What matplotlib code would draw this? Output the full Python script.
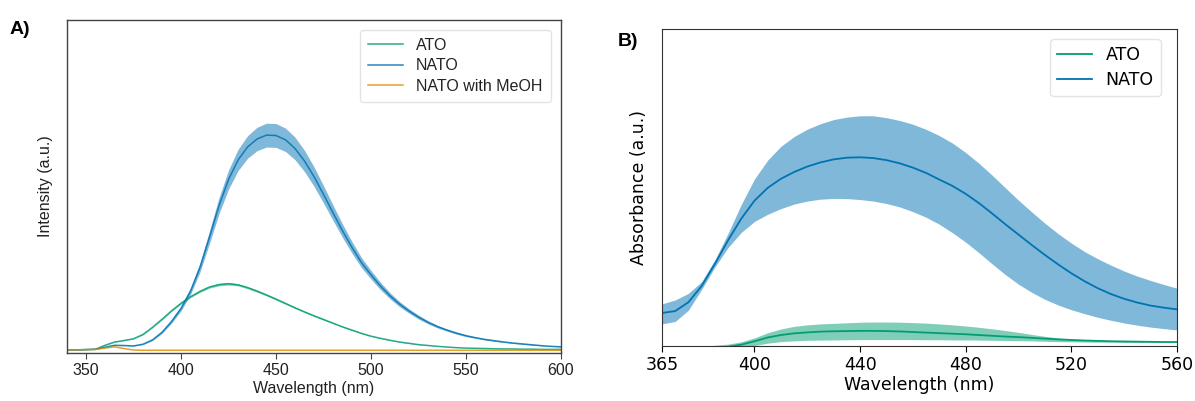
import numpy as np
import matplotlib
matplotlib.use("Agg")
import matplotlib.pyplot as plt

# colorblind palette colours
GREEN = "#029e73"
BLUE = "#0173b2"
ORANGE = "#de8f05"

# ---- panel A: emission spectra (normalised to NATO peak) ----
wl_a = list(range(340, 601, 5))

ato_a = [0.004, 0.004, 0.005, 0.007, 0.025, 0.040, 0.047, 0.055, 0.075, 0.108,
         0.145, 0.184, 0.219, 0.249, 0.274, 0.294, 0.305, 0.309, 0.304, 0.291,
         0.275, 0.257, 0.238, 0.218, 0.198, 0.179, 0.161, 0.144, 0.127, 0.110,
         0.095, 0.080, 0.067, 0.057, 0.048, 0.040, 0.034, 0.028, 0.024, 0.020,
         0.017, 0.014, 0.012, 0.011, 0.010, 0.009, 0.008, 0.008, 0.007, 0.007,
         0.006, 0.006, 0.006]
ato_a_std = [0.0, 0.0, 0.0, 0.0, 0.001, 0.001, 0.001, 0.001, 0.002, 0.002,
             0.003, 0.003, 0.004, 0.004, 0.005, 0.005, 0.006, 0.006, 0.005, 0.005,
             0.005, 0.004, 0.004, 0.004, 0.003, 0.003, 0.003, 0.003, 0.002, 0.002,
             0.002, 0.002, 0.001, 0.001, 0.001, 0.001, 0.001, 0.001, 0.0, 0.0,
             0.0, 0.0, 0.0, 0.0, 0.0, 0.0, 0.0, 0.0, 0.0, 0.0,
             0.0, 0.0, 0.0]

nato_a = [0.004, 0.004, 0.005, 0.006, 0.016, 0.025, 0.024, 0.022, 0.030, 0.050,
          0.085, 0.135, 0.195, 0.275, 0.385, 0.525, 0.670, 0.790, 0.880, 0.940,
          0.977, 0.995, 0.993, 0.973, 0.933, 0.875, 0.803, 0.721, 0.636, 0.553,
          0.476, 0.406, 0.350, 0.298, 0.253, 0.215, 0.183, 0.155, 0.131, 0.111,
          0.095, 0.081, 0.069, 0.060, 0.052, 0.046, 0.040, 0.035, 0.031, 0.027,
          0.023, 0.020, 0.018]
nato_a_std = [0.0, 0.0, 0.0, 0.0, 0.001, 0.001, 0.001, 0.001, 0.002, 0.003,
              0.005, 0.008, 0.011, 0.015, 0.021, 0.029, 0.037, 0.044, 0.049, 0.052,
              0.054, 0.055, 0.055, 0.054, 0.052, 0.049, 0.045, 0.040, 0.035, 0.031,
              0.027, 0.023, 0.020, 0.017, 0.014, 0.012, 0.010, 0.009, 0.007, 0.006,
              0.005, 0.005, 0.004, 0.003, 0.003, 0.003, 0.002, 0.002, 0.002, 0.002,
              0.001, 0.001, 0.001]

meoh_a = [0.004, 0.004, 0.005, 0.006, 0.012, 0.018, 0.010, 0.003, 0.002, 0.002,
          0.002, 0.002, 0.002, 0.002, 0.002, 0.002, 0.002, 0.002, 0.002, 0.002,
          0.002, 0.002, 0.002, 0.002, 0.002, 0.002, 0.002, 0.002, 0.002, 0.002,
          0.002, 0.002, 0.002, 0.002, 0.002, 0.002, 0.002, 0.002, 0.002, 0.002,
          0.002, 0.002, 0.002, 0.002, 0.002, 0.002, 0.002, 0.002, 0.002, 0.002,
          0.002, 0.002, 0.002]

# ---- panel B: absorbance spectra (normalised to NATO peak) ----
wl_b = list(range(365, 561, 5))

nato_b = [0.175, 0.185, 0.232, 0.318, 0.435, 0.560, 0.675, 0.770, 0.838, 0.886,
          0.922, 0.951, 0.973, 0.989, 0.998, 1.000, 0.996, 0.985, 0.968, 0.945,
          0.917, 0.882, 0.848, 0.806, 0.757, 0.702, 0.645, 0.590, 0.535, 0.482,
          0.432, 0.385, 0.343, 0.306, 0.275, 0.250, 0.230, 0.214, 0.203, 0.194]
nato_b_hi = [0.223, 0.244, 0.279, 0.341, 0.456, 0.597, 0.750, 0.885, 0.985, 1.058,
             1.110, 1.149, 1.178, 1.200, 1.213, 1.220, 1.220, 1.210, 1.195, 1.175,
             1.148, 1.115, 1.075, 1.025, 0.968, 0.905, 0.838, 0.772, 0.710, 0.650,
             0.595, 0.545, 0.500, 0.462, 0.428, 0.397, 0.370, 0.347, 0.326, 0.306]
nato_b_lo = [0.117, 0.130, 0.190, 0.300, 0.418, 0.522, 0.602, 0.660, 0.698, 0.728,
             0.752, 0.768, 0.778, 0.782, 0.781, 0.776, 0.768, 0.755, 0.737, 0.712,
             0.682, 0.645, 0.600, 0.550, 0.494, 0.435, 0.378, 0.327, 0.284, 0.247,
             0.217, 0.192, 0.171, 0.152, 0.136, 0.122, 0.110, 0.100, 0.092, 0.085]

ato_b = [-0.030, -0.025, -0.020, -0.015, -0.010, -0.004, 0.007, 0.025, 0.045, 0.058,
         0.067, 0.072, 0.076, 0.078, 0.079, 0.080, 0.080, 0.079, 0.077, 0.074,
         0.071, 0.068, 0.065, 0.062, 0.058, 0.054, 0.050, 0.047, 0.043, 0.039,
         0.035, 0.032, 0.029, 0.027, 0.025, 0.024, 0.023, 0.022, 0.021, 0.021]
ato_b_hi = [-0.010, -0.008, -0.005, -0.002, 0.004, 0.010, 0.022, 0.043, 0.070, 0.090,
            0.104, 0.112, 0.117, 0.120, 0.123, 0.126, 0.127, 0.127, 0.126, 0.124,
            0.121, 0.117, 0.112, 0.106, 0.099, 0.091, 0.082, 0.072, 0.061, 0.051,
            0.043, 0.036, 0.031, 0.028, 0.026, 0.025, 0.024, 0.023, 0.022, 0.022]
ato_b_lo = [-0.050, -0.045, -0.040, -0.035, -0.028, -0.020, -0.008, 0.002, 0.015, 0.023,
            0.027, 0.030, 0.031, 0.032, 0.033, 0.034, 0.034, 0.034, 0.034, 0.034,
            0.033, 0.033, 0.032, 0.032, 0.031, 0.030, 0.029, 0.028, 0.027, 0.025,
            0.023, 0.022, 0.021, 0.020, 0.020, 0.019, 0.019, 0.019, 0.019, 0.019]

fig = plt.figure(figsize=(11.95, 4.01), dpi=100)

# Panel A
ax1 = fig.add_axes([0.0561, 0.1197, 0.4134, 0.8304])
sans = ["Liberation Sans", "DejaVu Sans"]
for y, s, c, lab in [(ato_a, ato_a_std, GREEN, "ATO"),
                     (nato_a, nato_a_std, BLUE, "NATO"),
                     (meoh_a, None, ORANGE, "NATO with MeOH")]:
    y = np.array(y)
    ax1.plot(wl_a, y, color=c, lw=1.1, alpha=0.85, label=lab)
    if s is not None:
        s = np.array(s)
        ax1.fill_between(wl_a, y - s, y + s, color=c, alpha=0.5, lw=0)
ax1.set_xlim(340, 600)
ax1.set_ylim(-0.0106, 1.526)
ax1.set_yticks([])
ax1.set_xticks([350, 400, 450, 500, 550, 600])
for lbl in ax1.get_xticklabels():
    lbl.set_family(sans)
    lbl.set_fontsize(11.5)
    lbl.set_color("#222222")
ax1.set_xlabel("Wavelength (nm)", family=sans, fontsize=11.5, color="#222222", labelpad=2)
ax1.set_ylabel("Intensity (a.u.)", family=sans, fontsize=11.5, color="#222222", labelpad=10)
for sp in ax1.spines.values():
    sp.set_color("#444444")
    sp.set_linewidth(1.0)
ax1.tick_params(axis="x", length=4, color="#444444", pad=3)
leg1 = ax1.legend(loc="upper right", prop={"family": sans, "size": 11.5},
                  frameon=True, borderpad=0.5, handlelength=2.2, labelspacing=0.35,
                  bbox_to_anchor=(0.995, 0.995))
leg1.get_frame().set_edgecolor("#dddddd")
for t in leg1.get_texts():
    t.set_color("#222222")

# Panel B
ax2 = fig.add_axes([0.554, 0.1372, 0.431, 0.7905])
ax2.fill_between(wl_b, ato_b_lo, ato_b_hi, color=GREEN, alpha=0.5, lw=0)
ax2.plot(wl_b, ato_b, color=GREEN, lw=1.3, label="ATO")
ax2.fill_between(wl_b, nato_b_lo, nato_b_hi, color=BLUE, alpha=0.5, lw=0)
ax2.plot(wl_b, nato_b, color=BLUE, lw=1.3, label="NATO")
ax2.set_xlim(365, 560)
ax2.set_ylim(0, 1.68)
ax2.set_yticks([])
ax2.set_xticks([365, 400, 440, 480, 520, 560])
ax2.tick_params(axis="x", labelsize=12.5, length=4, pad=3)
ax2.set_xlabel("Wavelength (nm)", fontsize=12.5, labelpad=2)
ax2.set_ylabel("Absorbance (a.u.)", fontsize=12.5, labelpad=10)
for sp in ax2.spines.values():
    sp.set_color("#333333")
leg2 = ax2.legend(loc="upper right", fontsize=12.5, frameon=True,
                  handlelength=2.0, labelspacing=0.4, bbox_to_anchor=(0.985, 0.995))
leg2.get_frame().set_edgecolor("#dddddd")

fig.text(0.008, 0.915, "A)", fontsize=14, fontweight="bold", family=sans)
fig.text(0.517, 0.885, "B)", fontsize=14, fontweight="bold", family=sans)

fig.savefig("out.png", dpi=100)
